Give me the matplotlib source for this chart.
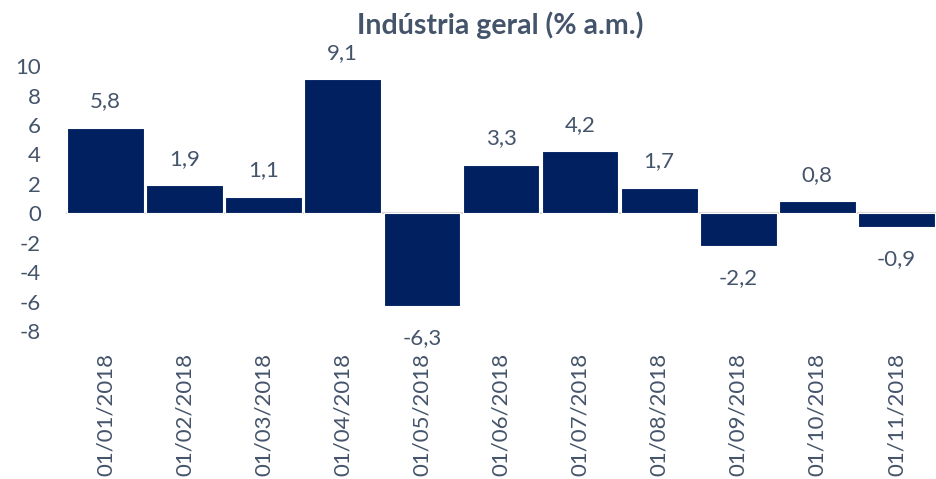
import matplotlib.pyplot as plt

plt.rcParams['font.family'] = ['Lato', 'DejaVu Sans']

# Data
dates = ['01/01/2018', '01/02/2018', '01/03/2018', '01/04/2018', '01/05/2018', '01/06/2018',
         '01/07/2018', '01/08/2018', '01/09/2018', '01/10/2018', '01/11/2018']
values = [5.8, 1.9, 1.1, 9.1, -6.3, 3.3, 4.2, 1.7, -2.2, 0.8, -0.9]
y_ticks = [10, 8, 6, 4, 2, 0, -2, -4, -6, -8]

text_color = '#44546a'
bar_color = '#002060'

fig = plt.figure(figsize=(9.36, 4.79), dpi=100)
ax = fig.add_axes([0.0705, 0.309, 0.9295, 0.553])

x = list(range(len(values)))
bars = ax.bar(x, values, width=0.97, color=bar_color, edgecolor='white', linewidth=0.8, zorder=2)

# data labels, comma decimal
for xi, v in zip(x, values):
    label = f'{v:.1f}'.replace('.', ',')
    if v >= 0:
        ax.annotate(label, (xi, v), xytext=(0, 12), textcoords='offset points',
                    ha='center', va='bottom', fontsize=16, color=text_color)
    else:
        ax.annotate(label, (xi, v), xytext=(0, -16), textcoords='offset points',
                    ha='center', va='top', fontsize=16, color=text_color)

ax.axhline(0, color='#d9d9d9', linewidth=1.5, zorder=1)

ax.set_xlim(-0.5, len(values) - 0.5)
ax.set_ylim(-8, 10)
ax.set_yticks(y_ticks)
ax.set_yticklabels([str(t) for t in y_ticks])
ax.set_xticks(x)
ax.set_xticklabels(dates, rotation=90)
ax.tick_params(axis='both', length=0, labelsize=16, colors=text_color)
ax.tick_params(axis='x', pad=16)
ax.tick_params(axis='y', pad=18)
for s in ax.spines.values():
    s.set_visible(False)

fig.text(0.534, 0.948, 'Indústria geral (% a.m.)', ha='center', va='center',
         fontsize=20.5, fontweight='bold', color=text_color)

plt.savefig('out.png', dpi=100)
